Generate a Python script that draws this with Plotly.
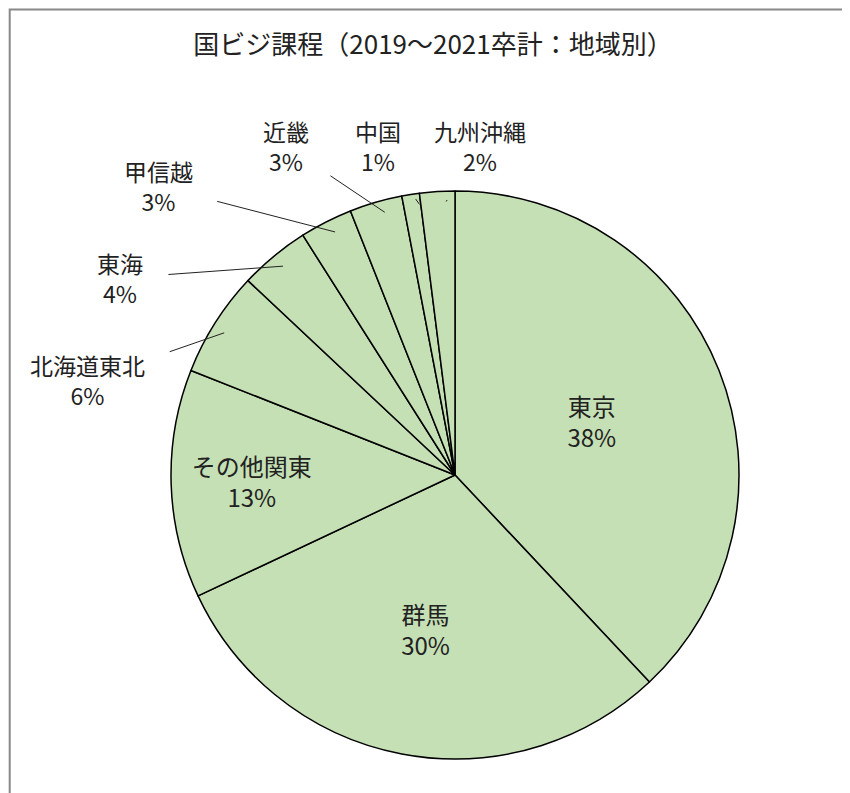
import numpy as np
import plotly.graph_objects as go

labels = ["東京", "群馬", "その他関東", "北海道東北", "東海", "甲信越", "近畿", "中国", "九州沖縄"]
values = [38, 30, 13, 6, 4, 3, 3, 1, 2]
inside = ["東京", "群馬", "その他関東"]
# where the outside labels sit (pixels)
label_pos = {"北海道東北": (80, 352), "東海": (112, 250), "甲信越": (150, 158),
             "近畿": (278, 118), "中国": (370, 118), "九州沖縄": (472, 118)}

W, H = 850, 793
cx, cy, r = 456, 477, 284
font = "Noto Sans CJK JP"

fig = go.Figure(go.Pie(
    labels=labels, values=values, sort=False, direction="clockwise", rotation=0,
    marker=dict(colors=["#c5e0b4"] * len(labels), line=dict(color="black", width=1.5)),
    texttemplate=[("%{label}<br>%{percent:.0%}" if l in inside else "") for l in labels],
    textposition="inside", insidetextorientation="horizontal",
    textfont=dict(family=font, size=24, color="#222"),
    domain=dict(x=[(cx - r - 9) / W, (cx + r - 9) / W],
                y=[1 - (cy + r - 10) / H, 1 - (cy - r - 10) / H]),
    showlegend=False, hoverinfo="label+percent",
))

total = sum(values)
cum = 0
for l, v in zip(labels, values):
    mid = (cum + v / 2) / total * 2 * np.pi
    cum += v
    if l in inside:
        continue
    tx, ty = cx + r * np.sin(mid), cy - r * np.cos(mid)
    lx, ly = label_pos[l]
    fig.add_annotation(
        x=tx / W, y=1 - ty / H, xref="paper", yref="paper",
        ax=lx - tx, ay=ly - ty + 20, showarrow=True, arrowhead=0, arrowwidth=1,
        arrowcolor="#222", standoff=0, startstandoff=24,
        text=f"{l}<br>{round(v / total * 100)}%",
        font=dict(family=font, size=23, color="#222"),
    )

fig.update_layout(
    width=W, height=H, margin=dict(l=0, r=0, t=0, b=0),
    paper_bgcolor="white",
    title=dict(text="国ビジ課程（2019～2021卒計：地域別）", x=0.5, y=0.965,
               xanchor="center", font=dict(family=font, size=26, color="#222")),
    shapes=[dict(type="rect", xref="paper", yref="paper", x0=0.002, y0=0.002,
                 x1=0.998, y1=0.998, line=dict(color="#888", width=2))],
)
fig.write_html("out.html")
